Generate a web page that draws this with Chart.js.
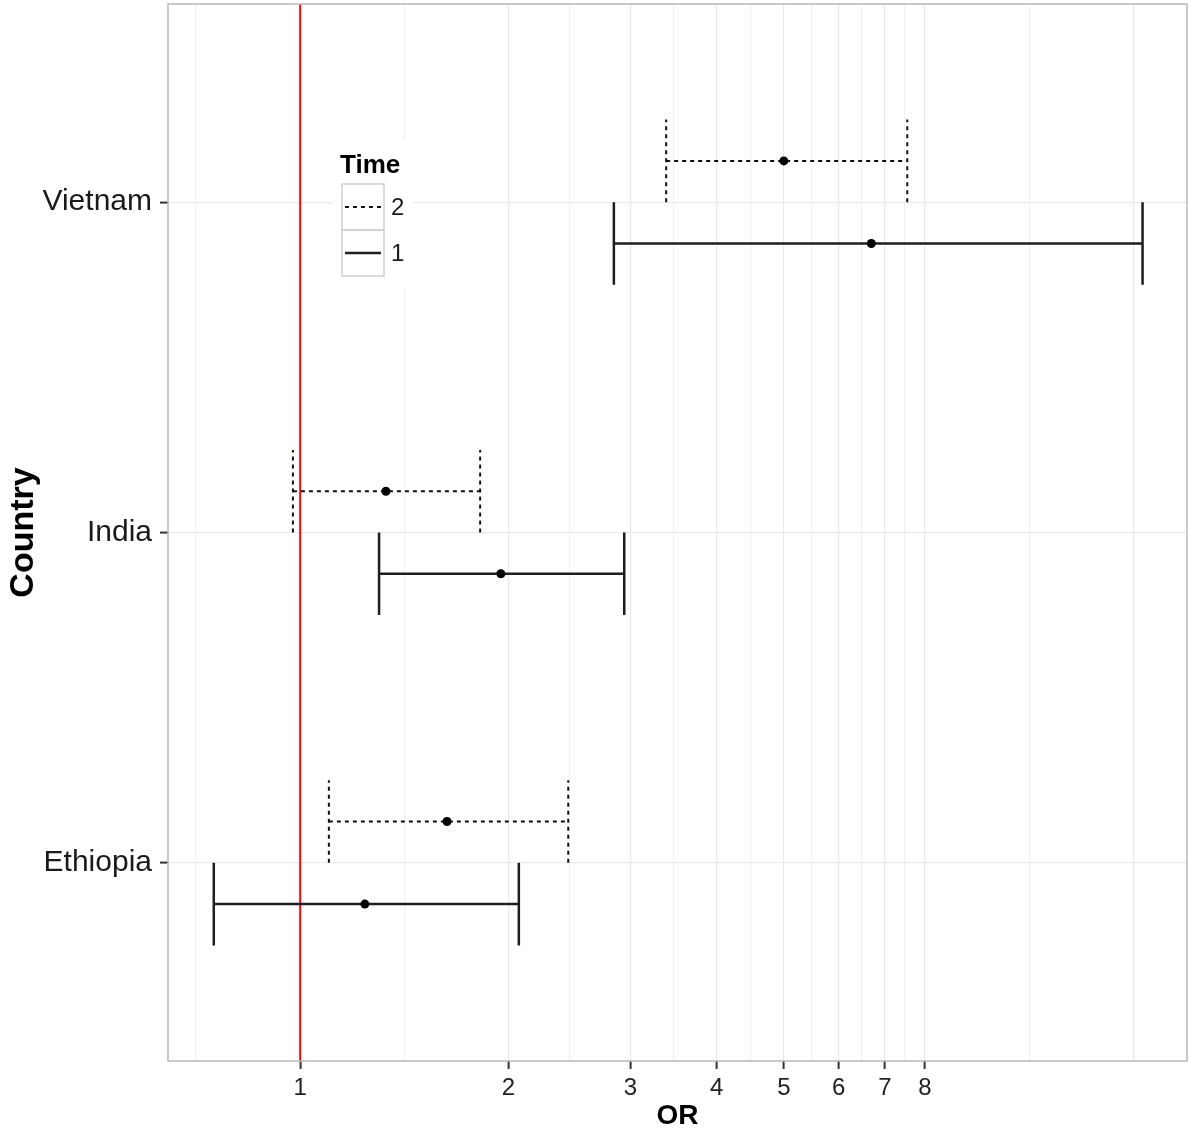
<!DOCTYPE html>
<html lang="en">
<head>
<meta charset="UTF-8">
<title>Odds ratios by country and time</title>
<script src="https://cdn.jsdelivr.net/npm/chart.js"></script>
<style>
    body { margin: 0; background: #fff; }
    canvas { display: block; }
</style>
</head>
<body>
<canvas id="orChart" width="1190" height="1134"></canvas>
<script>
    // Countries on the discrete axis, bottom to top
    const countries = ['Ethiopia', 'India', 'Vietnam'];

    // Time 1: odds ratio with confidence interval
    const or1 = [1.24, 1.95, 6.69];
    const lower1 = [0.75, 1.30, 2.84];
    const upper1 = [2.07, 2.94, 16.5];

    // Time 2: odds ratio with confidence interval
    const or2 = [1.63, 1.33, 5.00];
    const lower2 = [1.10, 0.976, 3.38];
    const upper2 = [2.44, 1.82, 7.54];

    // Log axis breaks; only 1..8 carry a label
    const xTickLabels = [1, 2, 3, 4, 5, 6, 7, 8];
    const xBreaks = [0.5, 1, 2, 3, 4, 5, 6, 7, 8, 16];
    const refOR = 1;

    const xMin = 0.644, xMax = 19.13;
    const yMin = 0.4, yMax = 3.6;
    const dodge = 0.125;    // vertical shift of each time within a country
    const capHalf = 0.125;  // half height of the error bar caps

    const FONT = '"Liberation Sans", Arial, Helvetica, sans-serif';

    // minor grid lines sit halfway between breaks in log space
    const xMinor = xBreaks.slice(1).map((b, i) => Math.sqrt(b * xBreaks[i]));
    const xGrid = xBreaks.concat(xMinor)
        .filter(v => v >= xMin && v <= xMax)
        .sort((a, b) => a - b);

    // one path per time: caps and horizontal bar, split by gaps
    function errorBarPath(lower, upper, offset) {
        const pts = [];
        countries.forEach((c, i) => {
            const y = i + 1 + offset;
            pts.push({x: lower[i], y: y - capHalf}, {x: lower[i], y: y + capHalf}, {x: null, y: null});
            pts.push({x: upper[i], y: y - capHalf}, {x: upper[i], y: y + capHalf}, {x: null, y: null});
            pts.push({x: lower[i], y: y}, {x: upper[i], y: y}, {x: null, y: null});
        });
        return pts;
    }

    function estimatePoints(values, offset) {
        return values.map((v, i) => ({x: v, y: i + 1 + offset}));
    }

    const timeStyles = [
        {label: '2', dash: [4, 4], color: '#111111', width: 2},
        {label: '1', dash: [], color: '#1e1e1e', width: 2.5}
    ];

    // legend drawn inside the panel, top left
    const timeLegend = {
        id: 'timeLegend',
        afterDatasetsDraw(chart) {
            const ctx = chart.ctx;
            ctx.save();
            ctx.fillStyle = '#ffffff';
            ctx.fillRect(332, 140, 81, 148);

            ctx.fillStyle = '#000000';
            ctx.font = 'bold 26px ' + FONT;
            ctx.textBaseline = 'alphabetic';
            ctx.textAlign = 'left';
            ctx.fillText('Time', 340, 173);

            timeStyles.forEach((s, i) => {
                const top = 184 + i * 46;
                ctx.setLineDash([]);
                ctx.strokeStyle = '#d0d0d0';
                ctx.lineWidth = 1.5;
                ctx.strokeRect(342, top, 42, 46);

                ctx.beginPath();
                ctx.setLineDash(s.dash);
                ctx.strokeStyle = s.color;
                ctx.lineWidth = s.width;
                ctx.moveTo(345, top + 23);
                ctx.lineTo(381, top + 23);
                ctx.stroke();

                ctx.setLineDash([]);
                ctx.fillStyle = '#1a1a1a';
                ctx.font = '24px ' + FONT;
                ctx.textBaseline = 'middle';
                ctx.fillText(s.label, 391, top + 24);
            });
            ctx.restore();
        }
    };

    // grey border round the plotting panel
    const panelBorder = {
        id: 'panelBorder',
        afterDraw(chart) {
            const {ctx, chartArea: a} = chart;
            ctx.save();
            ctx.strokeStyle = '#b8b8b8';
            ctx.lineWidth = 1.5;
            ctx.strokeRect(a.left, a.top, a.right - a.left, a.bottom - a.top);
            ctx.restore();
        }
    };

    new Chart(document.getElementById('orChart'), {
        type: 'line',
        data: {
            datasets: [
                {
                    type: 'scatter',
                    data: estimatePoints(or2, dodge).concat(estimatePoints(or1, -dodge)),
                    pointRadius: 4.5,
                    pointBackgroundColor: '#000',
                    pointBorderWidth: 0,
                    order: 1
                },
                {
                    data: errorBarPath(lower2, upper2, dodge),
                    borderColor: timeStyles[0].color,
                    borderWidth: timeStyles[0].width,
                    borderDash: timeStyles[0].dash,
                    pointRadius: 0,
                    spanGaps: false,
                    fill: false,
                    order: 2
                },
                {
                    data: errorBarPath(lower1, upper1, -dodge),
                    borderColor: timeStyles[1].color,
                    borderWidth: timeStyles[1].width,
                    pointRadius: 0,
                    spanGaps: false,
                    fill: false,
                    order: 2
                },
                {
                    data: [{x: refOR, y: yMin}, {x: refOR, y: yMax}],
                    borderColor: '#ff0000',
                    borderWidth: 2,
                    pointRadius: 0,
                    fill: false,
                    order: 3
                }
            ]
        },
        options: {
            responsive: false,
            animation: false,
            events: [],
            layout: {autoPadding: false, padding: {top: 4, right: 3, left: 0, bottom: 0}},
            plugins: {legend: {display: false}, tooltip: {enabled: false}},
            scales: {
                x: {
                    type: 'logarithmic',
                    bounds: 'data',
                    min: xMin,
                    max: xMax,
                    afterBuildTicks(scale) {
                        scale.ticks = xGrid.map(v => ({value: v}));
                    },
                    afterFit(scale) {
                        scale.height = 73;
                        scale.paddingLeft = 0;
                        scale.paddingRight = 0;
                    },
                    ticks: {
                        autoSkip: false,
                        maxRotation: 0,
                        padding: 5,
                        color: '#222',
                        font: {family: FONT, size: 24},
                        callback: v => xTickLabels.includes(v) ? String(v) : ''
                    },
                    grid: {
                        color: c => xBreaks.includes(c.tick.value) ? '#e8e8e8' : '#f1f1f1',
                        lineWidth: 1.2,
                        tickLength: 8,
                        tickWidth: 2,
                        tickColor: c => xTickLabels.includes(c.tick.value) ? '#333' : 'rgba(0,0,0,0)'
                    },
                    border: {display: false},
                    title: {
                        display: true,
                        text: 'OR',
                        color: '#000',
                        font: {family: FONT, size: 28, weight: 'bold'},
                        padding: {top: 0, bottom: 1}
                    }
                },
                y: {
                    type: 'linear',
                    bounds: 'data',
                    min: yMin,
                    max: yMax,
                    afterBuildTicks(scale) {
                        scale.ticks = countries.map((c, i) => ({value: i + 1}));
                    },
                    afterFit(scale) {
                        scale.width = 168;
                        scale.paddingTop = 0;
                        scale.paddingBottom = 0;
                    },
                    ticks: {
                        autoSkip: false,
                        padding: 8,
                        color: '#1a1a1a',
                        font: {family: FONT, size: 30},
                        callback: v => countries[v - 1]
                    },
                    grid: {
                        color: '#ebebeb',
                        lineWidth: 1.2,
                        tickLength: 8,
                        tickWidth: 2,
                        tickColor: '#333'
                    },
                    border: {display: false},
                    title: {
                        display: true,
                        text: 'Country',
                        color: '#000',
                        font: {family: FONT, size: 34, weight: 'bold'},
                        padding: {top: 3, bottom: 0}
                    }
                }
            }
        },
        plugins: [timeLegend, panelBorder]
    });
</script>
</body>
</html>
